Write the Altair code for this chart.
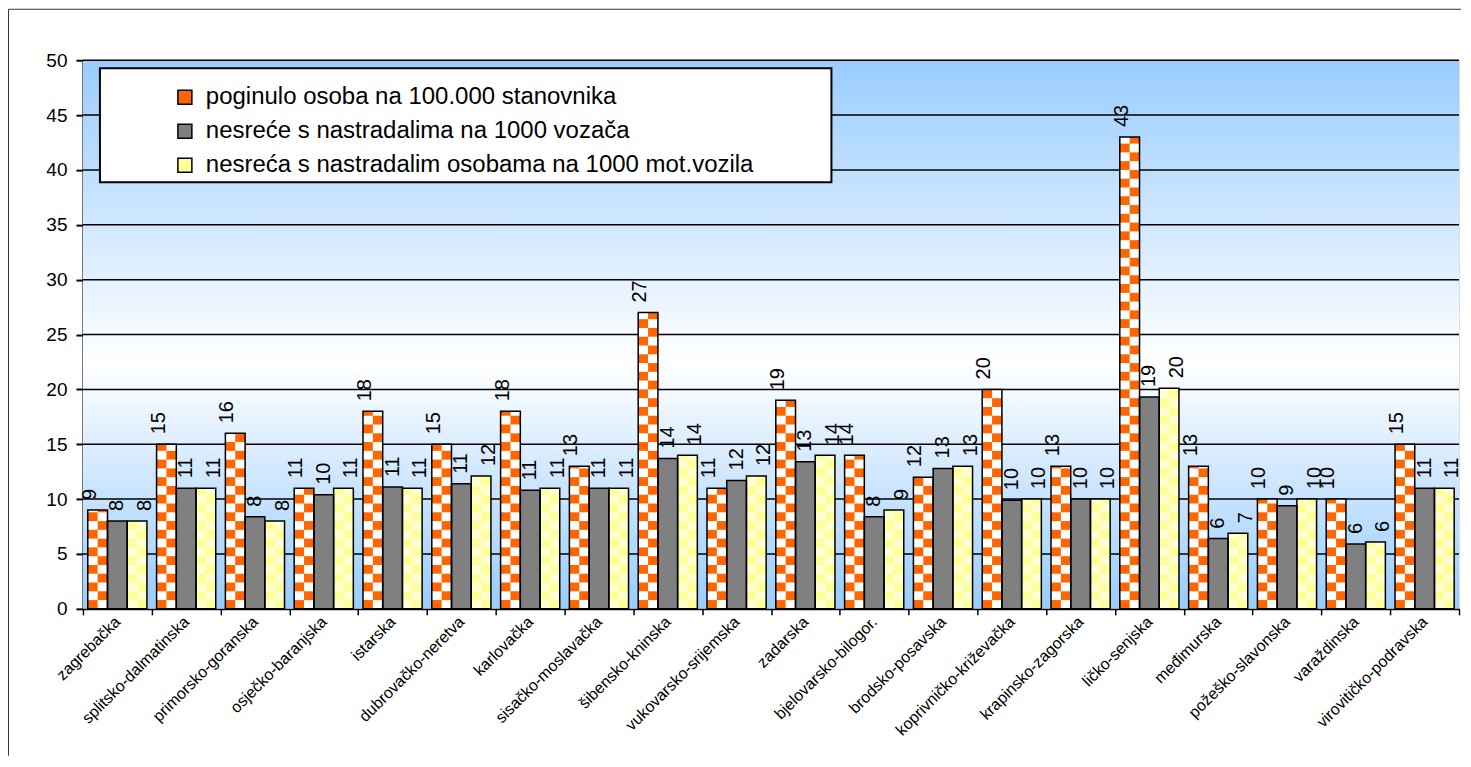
import altair as alt
import pandas as pd
import math

counties = ["zagrebačka", "splitsko-dalmatinska", "primorsko-goranska", "osječko-baranjska",
            "istarska", "dubrovačko-neretva", "karlovačka", "sisačko-moslavačka",
            "šibensko-kninska", "vukovarsko-srijemska", "zadarska", "bjelovarsko-bilogor.",
            "brodsko-posavska", "koprivničko-križevačka", "krapinsko-zagorska", "ličko-senjska",
            "međimurska", "požeško-slavonska", "varaždinska", "virovitičko-podravska"]
killed = [9, 15, 16, 11, 18, 15, 18, 13, 27, 11, 19, 14, 12, 20, 13, 43, 13, 10, 10, 15]
per_drivers = [8.0, 11.0, 8.4, 10.4, 11.1, 11.4, 10.8, 11.0, 13.7, 11.7, 13.4, 8.4, 12.8, 9.9, 10.0, 19.3, 6.4, 9.4, 5.9, 11.0]
per_vehicles = [8.0, 11.0, 8.0, 11.0, 11.0, 12.1, 11.0, 11.0, 14.0, 12.1, 14.0, 9.0, 13.0, 10.0, 10.0, 20.1, 6.9, 10.0, 6.1, 11.0]
series = ["poginulo osoba na 100.000 stanovnika",
          "nesreće s nastradalima na 1000 vozača",
          "nesreća s nastradalim osobama na 1000 mot.vozila"]
y_ticks = [0, 5, 10, 15, 20, 25, 30, 35, 40, 45, 50]

colors = ["#FF6600", "#808080", "#FFFF99"]
FONT = "Liberation Sans"
W, H = 1377, 549

rows = []
for s, vals in zip(series, [killed, per_drivers, per_vehicles]):
    for c, v in zip(counties, vals):
        rows.append({"county": c, "series": s, "value": v})
df = pd.DataFrame(rows)

# checker texture (decoration) built from the values
subs = ["a0", "a1", "b0", "b1", "c0", "c1"]
step = 0.8
chk = []
for c, v in zip(counties, killed):
    n = math.ceil(v / step)
    for k in range(n):
        for col in range(2):
            if (k + col) % 2 == 1:
                chk.append({"county": c, "sub": f"a{col}", "y0": k * step,
                            "y1": min((k + 1) * step, v), "fill": "#FFFFFF"})
for c, v in zip(counties, per_vehicles):
    n = math.ceil(v / step)
    for k in range(n):
        for col in range(2):
            if (k + col) % 2 == 0:
                chk.append({"county": c, "sub": f"c{col}", "y0": k * step,
                            "y1": min((k + 1) * step, v), "fill": "#FFFFD2"})
chk = pd.DataFrame(chk)

x_axis = alt.Axis(title=None, labelAngle=-45, labelAlign="right", labelBaseline="middle",
                  labelFontSize=16, labelFont=FONT, labelColor="black", labelPadding=4,
                  tickBand="extent", tickSize=6, tickColor="black", tickWidth=1.5,
                  domainColor="black", domainWidth=2, labelLimit=400, grid=False)
y_axis = alt.Axis(title=None, values=y_ticks, labelFontSize=19, labelFont=FONT,
                  labelColor="black", tickSize=7, tickColor="black", tickWidth=2,
                  domainColor="black", domainWidth=2, labelPadding=9, grid=False)
x_scale = alt.Scale(paddingInner=0, paddingOuter=0)
y_scale = alt.Scale(domain=[0, 50], nice=False)


def X():
    return alt.X("county:N", sort=counties, scale=x_scale, axis=x_axis)


def Y(field):
    return alt.Y(field, scale=y_scale, axis=y_axis)


xoff = alt.XOffset("series:N", sort=series,
                   scale=alt.Scale(domain=series, paddingInner=0, paddingOuter=0.245))

one = alt.Data(values=[{"k": 1}])

bg = alt.Chart(one).mark_rect(
    color=alt.Gradient(gradient="linear", x1=0, x2=0, y1=0, y2=1,
                       stops=[alt.GradientStop(offset=0, color="#99CCFF"),
                              alt.GradientStop(offset=0.55, color="#FFFFFF"),
                              alt.GradientStop(offset=1, color="#99CCFF")])
).encode(x=alt.value(0), x2=alt.value(W), y=alt.value(0), y2=alt.value(H))

grid = alt.Chart(pd.DataFrame({"value": y_ticks[1:]})).mark_rule(color="black", strokeWidth=1.5).encode(
    y=Y("value:Q"))

bars = alt.Chart(df).mark_bar().encode(
    x=X(), xOffset=xoff, y=Y("value:Q"),
    color=alt.Color("series:N", sort=series, scale=alt.Scale(domain=series, range=colors),
                    legend=alt.Legend(title=None, orient="none", legendX=90, legendY=25,
                                      symbolType="square", symbolSize=196, symbolStrokeColor="black",
                                      symbolStrokeWidth=1.5, labelFontSize=24, labelFont=FONT,
                                      labelColor="black", rowPadding=10, labelOffset=9, padding=0,
                                      labelLimit=800)))

checker = alt.Chart(chk).mark_rect().encode(
    x=X(),
    xOffset=alt.XOffset("sub:N", scale=alt.Scale(domain=subs, paddingInner=0, paddingOuter=0.49)),
    y=Y("y0:Q"), y2="y1:Q",
    fill=alt.Fill("fill:N", scale=None))

outline = alt.Chart(df).mark_bar(fillOpacity=0, stroke="black", strokeWidth=1.5).encode(
    x=X(), xOffset=xoff, y=Y("value:Q"))

labels = alt.Chart(df).mark_text(angle=270, align="left", baseline="middle", dx=10,
                                 fontSize=20, font=FONT, color="black").encode(
    x=X(), xOffset=xoff, y=Y("value:Q"),
    text=alt.Text("value:Q", format=".0f"))

legend_box = alt.Chart(one).mark_rect(fill="white", stroke="black", strokeWidth=2).encode(
    x=alt.value(17), x2=alt.value(749), y=alt.value(8), y2=alt.value(122))

frame_left = alt.Chart(one).mark_rule(color="#333333", strokeWidth=1).encode(
    x=alt.value(-74.5), y=alt.value(-51), y2=alt.value(696))
frame_top = alt.Chart(one).mark_rule(color="#333333", strokeWidth=1).encode(
    x=alt.value(-74.5), x2=alt.value(1379), y=alt.value(-51))

chart = alt.layer(bg, grid, bars, checker, outline, labels, legend_box, frame_left, frame_top).resolve_scale(
    xOffset="independent"
).properties(width=W, height=H, padding=0).configure_view(
    stroke="#808080", strokeWidth=2
).configure(background="white")

chart.save("out.html", embed_options={"renderer": "svg", "actions": False})
